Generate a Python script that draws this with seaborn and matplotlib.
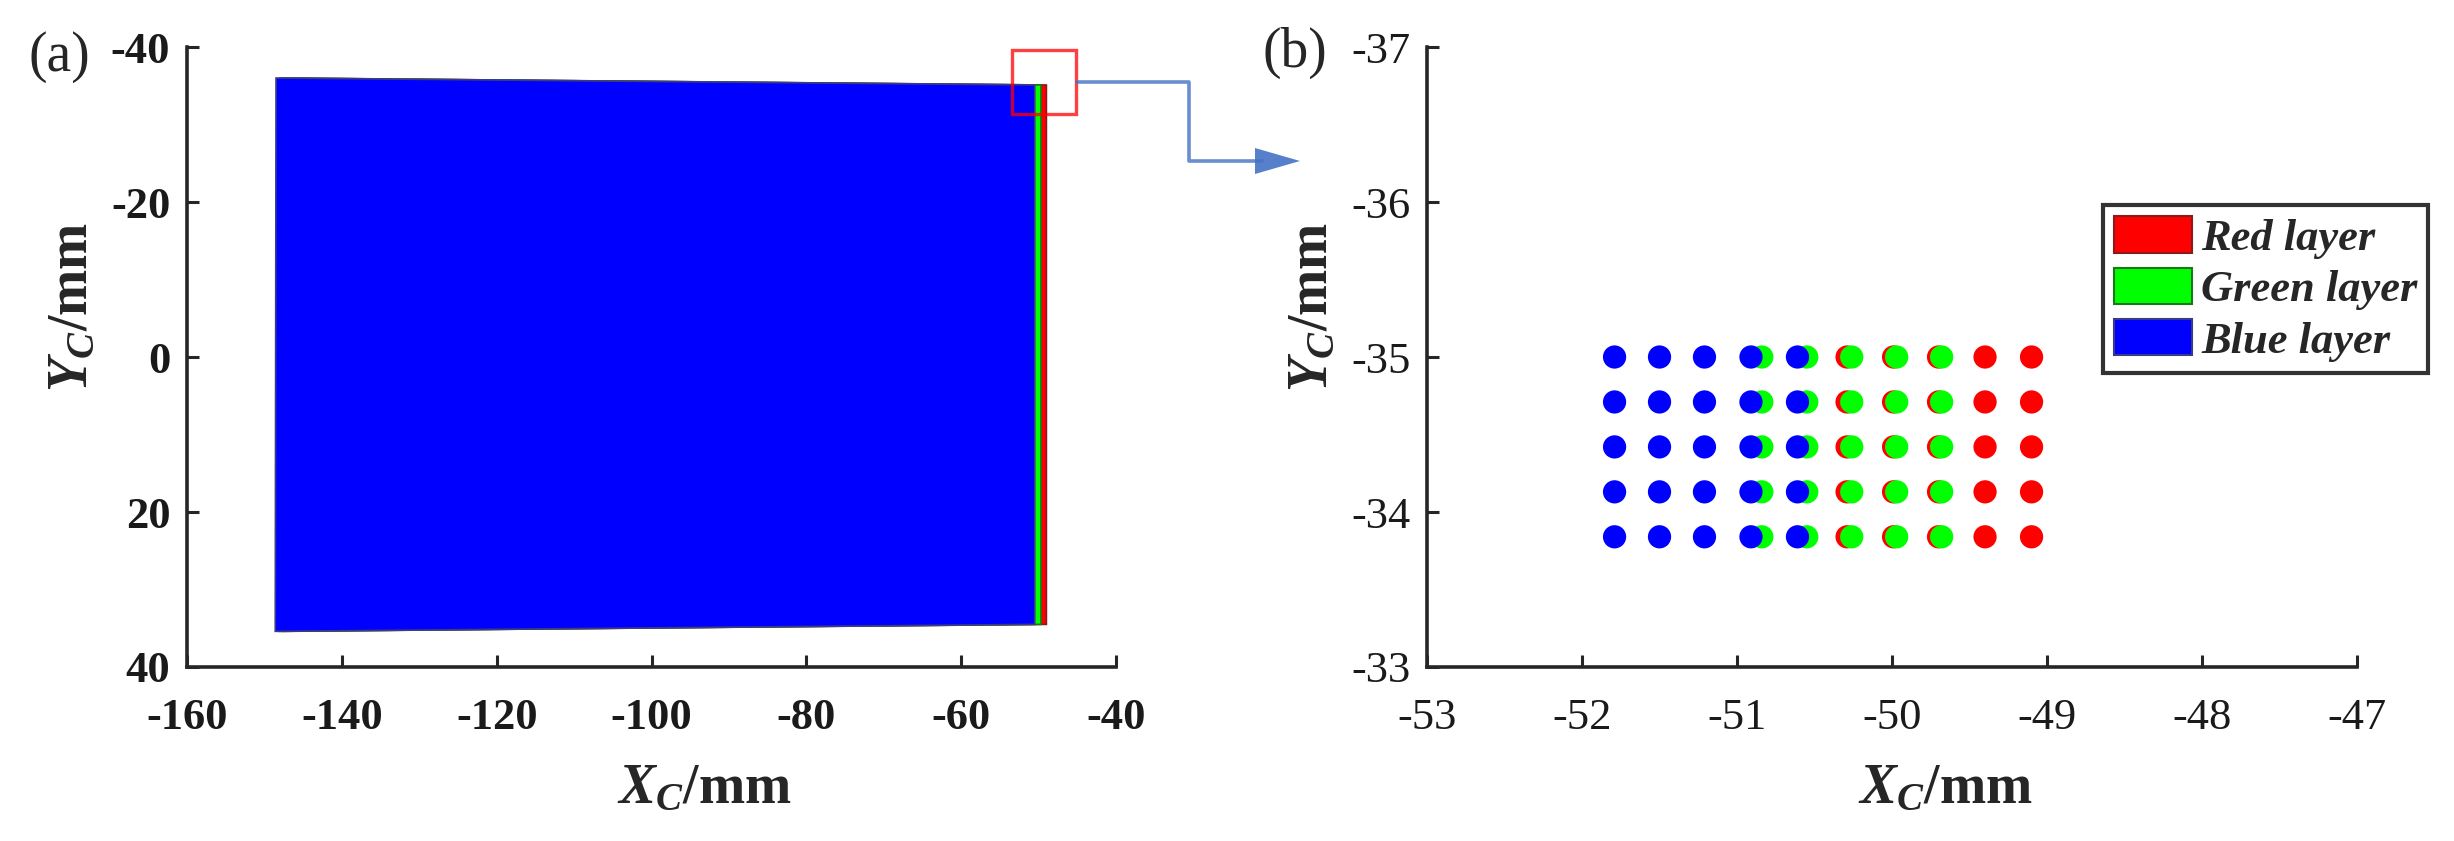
import seaborn as sns
import matplotlib.pyplot as plt
import pandas as pd
from matplotlib.patches import Patch, Rectangle
from matplotlib.lines import Line2D

# panel (a): outline corners of each layer (x, y in mm)
blue_x = [-148.5, -50.5, -50.5, -148.6]
green_x = [-148.0, -49.7, -49.7, -148.1]
red_x = [-147.5, -49.0, -49.0, -147.6]
layer_y = [-36.0, -35.1, 34.5, 35.4]

# panel (b): dot grid of each layer
blue_cols = [-51.79, -51.50, -51.21, -50.91, -50.61]
green_cols = [-50.84, -50.55, -50.26, -49.97, -49.68]
red_cols = [-50.29, -49.99, -49.70, -49.40, -49.10]
rows = [-35.00, -34.71, -34.42, -34.13, -33.84]

layer_names = ['Red layer', 'Green layer', 'Blue layer']
layer_colors = ['#ff0000', '#00ff00', '#0000ff']
edge_colors = ['#8b1a1a', '#1a7a1a', '#3a3a8a']

sns.set_theme(style='ticks')
plt.rcParams['font.family'] = ['Liberation Serif', 'DejaVu Serif']
plt.rcParams['axes.unicode_minus'] = False
plt.rcParams['mathtext.fontset'] = 'custom'
plt.rcParams['mathtext.it'] = 'Liberation Serif:italic:bold'
plt.rcParams['mathtext.rm'] = 'Liberation Serif:bold'

recs = []
for name, cols in zip(layer_names, [red_cols, green_cols, blue_cols]):
    for y in rows:
        for x in cols:
            recs.append({'layer': name, 'x': x, 'y': y})
dots = pd.DataFrame(recs)

fig = plt.figure(figsize=(24.54, 8.41), dpi=100)
ax_a = fig.add_axes([0.0762, 0.2069, 0.3786, 0.7372])
ax_b = fig.add_axes([0.5815, 0.2069, 0.3790, 0.7372])

# (a) filled layers, red under green under blue
for xs, c, ec in zip([red_x, green_x, blue_x], layer_colors, edge_colors):
    ax_a.fill(xs, layer_y, facecolor=c, edgecolor=ec, linewidth=1.2)
ax_a.add_patch(Rectangle((-53.4, -39.6), 8.2, 8.2, fill=False,
                         edgecolor='red', alpha=0.75, linewidth=2.4,
                         clip_on=False, zorder=5))
ax_a.set_xlim(-160, -40)
ax_a.set_ylim(40, -40)
ax_a.set_xticks(range(-160, -39, 20))
ax_a.set_yticks(range(-40, 41, 20))

# (b) dots
sns.scatterplot(data=dots, x='x', y='y', hue='layer', hue_order=layer_names,
                palette=layer_colors, s=280, linewidth=0, legend=False, ax=ax_b)
ax_b.set_xlim(-53, -47)
ax_b.set_ylim(-33, -37)
ax_b.set_xticks(range(-53, -46))
ax_b.set_yticks(range(-37, -32))

for ax, wt in [(ax_a, 'bold'), (ax_b, 'normal')]:
    sns.despine(ax=ax)
    for s in ['left', 'bottom']:
        ax.spines[s].set_linewidth(2.6)
        ax.spines[s].set_color('#262626')
    ax.tick_params(direction='in', length=8.5, width=2.2, color='#262626',
                   labelsize=32, pad=12, labelcolor='#1a1a1a')
    ax.tick_params(axis='x', pad=22)
    for lab in ax.get_xticklabels() + ax.get_yticklabels():
        lab.set_fontweight(wt)
    ax.set_xlabel(r'$X_C$/mm', fontsize=40, fontweight='bold')
    ax.set_ylabel(r'$Y_C$/mm', fontsize=40, fontweight='bold')
    ax.xaxis.set_label_coords(0.557, -0.155)
    ax.yaxis.set_label_coords(-0.094, 0.58)

handles = [Patch(facecolor=c, edgecolor=ec, linewidth=1.5)
           for c, ec in zip(layer_colors, edge_colors)]
leg = ax_b.legend(handles, layer_names, loc='upper left',
                  bbox_to_anchor=(0.727, 0.745), frameon=True, fancybox=False,
                  prop={'family': 'Liberation Serif', 'weight': 'bold',
                        'style': 'italic', 'size': 32},
                  handlelength=1.75, handleheight=0.88, handletextpad=0.2,
                  labelspacing=0.2, borderpad=0.25, borderaxespad=0)
leg.get_frame().set_edgecolor('#333333')
leg.get_frame().set_linewidth(3)
leg.get_frame().set_alpha(1)

fig.text(59 / 2454, 1 - 57 / 841, '(a)', fontsize=40, ha='center', va='center')
fig.text(1295 / 2454, 1 - 53 / 841, '(b)', fontsize=40, ha='center', va='center')

# connector arrow from zoom box to panel (b)
W, H = 2454, 841
px = [1077, 1189, 1189, 1262]
py = [82, 82, 161, 161]
fig.add_artist(Line2D([p / W for p in px], [1 - p / H for p in py],
                      color='#4472c4', alpha=0.8, linewidth=2.6))
fig.add_artist(plt.Polygon([[1255 / W, 1 - 148 / H], [1300 / W, 1 - 161 / H],
                            [1255 / W, 1 - 174 / H]], closed=True,
                           facecolor='#4472c4', edgecolor='none', alpha=0.9))

fig.savefig('out.png', dpi=100)
